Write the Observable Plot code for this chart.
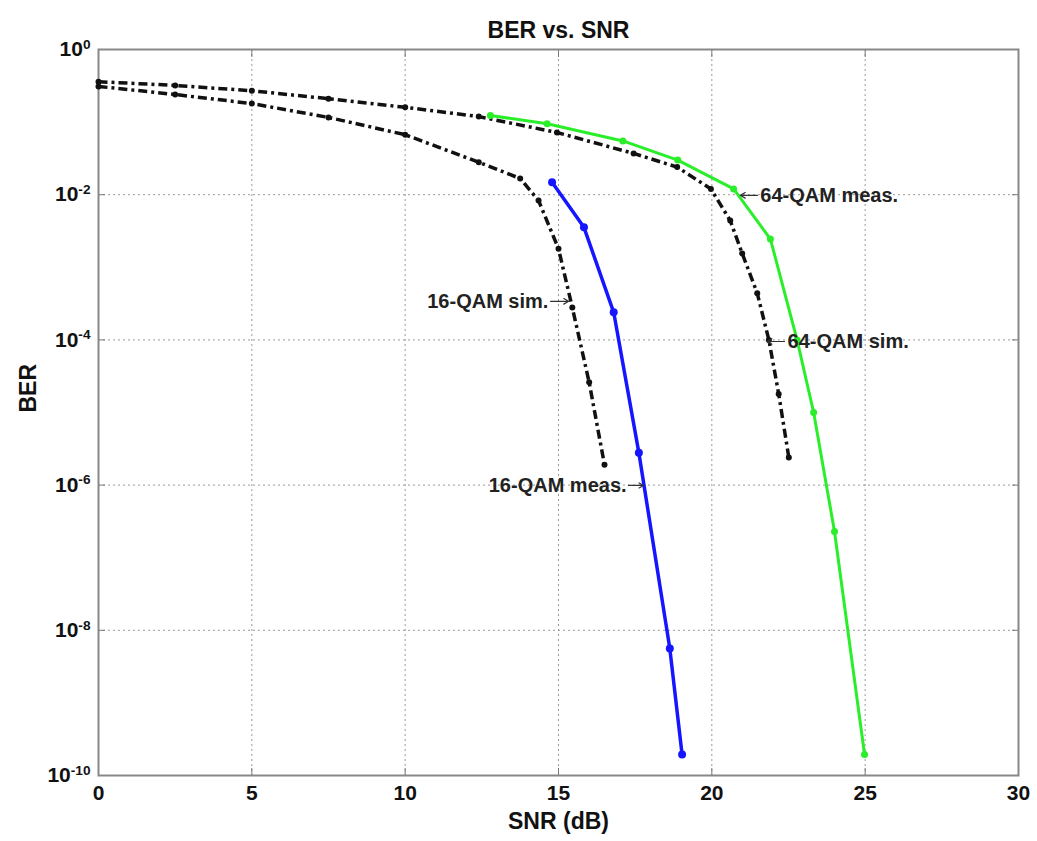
<!DOCTYPE html>
<html><head><meta charset="utf-8">
<script src="https://cdn.jsdelivr.net/npm/d3@7"></script>
<script src="https://cdn.jsdelivr.net/npm/@observablehq/plot@0.6"></script>
<style>body{margin:0;background:#fff} svg{display:block}</style>
</head><body><div id="chart"></div>
<script>
// ---- data ----
const chartTitle = "BER vs. SNR";
const xLabel = "SNR (dB)";
const yLabel = "BER";
const xTicks = [0, 5, 10, 15, 20, 25, 30];
const yTicks = [1, 1e-2, 1e-4, 1e-6, 1e-8, 1e-10];
const xGrid = [5, 10, 15, 20, 25];
const yGrid = [1e-2, 1e-4, 1e-6, 1e-8];

const sim16X = [0, 2.5, 5, 7.5, 10, 12.4, 13.75, 14.35, 15.0, 15.45, 16.0, 16.5];
const sim16Y = [0.31, 0.24, 0.18, 0.116, 0.067, 0.028, 0.0167, 8.3e-3, 1.8e-3, 2.8e-4, 2.6e-5, 1.9e-6];

const sim64X = [0, 2.5, 5, 7.5, 10, 12.4, 14.95, 17.45, 18.87, 19.97, 20.6, 20.99, 21.48, 21.86, 22.18, 22.51];
const sim64Y = [0.36, 0.32, 0.27, 0.21, 0.16, 0.119, 0.072, 0.037, 0.024, 0.012, 4.4e-3, 1.55e-3, 4.4e-4, 1.0e-4, 1.8e-5, 2.4e-6];

const meas16X = [14.79, 15.83, 16.8, 17.62, 18.63, 19.03];
const meas16Y = [0.0148, 3.55e-3, 2.4e-4, 2.8e-6, 5.6e-9, 1.95e-10];

const meas64X = [12.78, 14.63, 17.1, 18.89, 20.71, 21.91, 22.78, 23.32, 24.0, 24.98];
const meas64Y = [0.123, 0.095, 0.055, 0.030, 0.012, 2.45e-3, 1.0e-4, 1.0e-5, 2.3e-7, 1.95e-10];

const noteText = ["16-QAM sim.", "16-QAM meas.", "64-QAM meas.", "64-QAM sim."];
const noteX = [14.67, 17.22, 21.58, 22.47];
const noteY = [3.4e-4, 9.9e-7, 9.8e-3, 9.5e-5];
const noteSide = ["end", "end", "start", "start"];
const arrowFromX = [14.74, 17.28, 21.49, 22.37];
const arrowToX = [15.33, 17.77, 20.93, 21.80];

// ---- tables ----
const toRows = (xs, ys) => xs.map((x, i) => ({x, y: ys[i]}));
const sim16 = toRows(sim16X, sim16Y);
const sim64 = toRows(sim64X, sim64Y);
const meas16 = toRows(meas16X, meas16Y);
const meas64 = toRows(meas64X, meas64Y);
const notes = noteText.map((t, i) => ({t, x: noteX[i], y: noteY[i], side: noteSide[i], x1: arrowFromX[i], x2: arrowToX[i]}));

const FONT = "'Liberation Sans', Arial, sans-serif";
const BLUE = "#1515ff", GREEN = "#2bee2b", BLACK = "#111";
const dashDot = "9,4,3,4";

const plot = Plot.plot({
  width: 1037, height: 841,
  marginLeft: 98, marginRight: 19, marginTop: 49, marginBottom: 66,
  style: {fontFamily: FONT, fontWeight: "bold", fontSize: "21px", color: "#111", background: "#fff"},
  x: {domain: [0, 30], label: null},
  y: {type: "log", domain: [1e-10, 1], label: null},
  marks: [
    Plot.gridX(xGrid, {stroke: "#999", strokeOpacity: 1, strokeDasharray: "2,3", strokeWidth: 1}),
    Plot.gridY(yGrid, {stroke: "#999", strokeOpacity: 1, strokeDasharray: "2,3", strokeWidth: 1}),
    Plot.axisX(xTicks, {tickSize: 0, tickPadding: 10, tickFormat: d => String(d), label: null}),
    Plot.axisX(xTicks, {anchor: "bottom", tickSize: -7, tickFormat: () => "", label: null, stroke: "#777"}),
    Plot.axisX(xTicks, {anchor: "top", tickSize: -7, tickFormat: () => "", label: null, stroke: "#777"}),
    Plot.axisY(yTicks, {tickSize: 0, tickPadding: 8, tickFormat: d => "10^" + Math.round(Math.log10(d)), label: null}),
    Plot.axisY(yTicks, {anchor: "left", tickSize: -7, tickFormat: () => "", label: null, stroke: "#777"}),
    Plot.axisY(yTicks, {anchor: "right", tickSize: -7, tickFormat: () => "", label: null, stroke: "#777"}),
    Plot.frame({stroke: "#888", strokeWidth: 2}),

    Plot.line(sim64, {x: "x", y: "y", stroke: BLACK, strokeWidth: 3.5, strokeDasharray: dashDot, strokeLinecap: "butt"}),
    Plot.dot(sim64, {x: "x", y: "y", r: 3, fill: BLACK}),
    Plot.line(sim16, {x: "x", y: "y", stroke: BLACK, strokeWidth: 3.5, strokeDasharray: dashDot, strokeLinecap: "butt"}),
    Plot.dot(sim16, {x: "x", y: "y", r: 3, fill: BLACK}),
    Plot.line(meas64, {x: "x", y: "y", stroke: GREEN, strokeWidth: 3}),
    Plot.dot(meas64, {x: "x", y: "y", r: 3.5, fill: GREEN}),
    Plot.line(meas16, {x: "x", y: "y", stroke: BLUE, strokeWidth: 3.5}),
    Plot.dot(meas16, {x: "x", y: "y", r: 4, fill: BLUE}),

    Plot.arrow(notes, {x1: "x1", y1: "y", x2: "x2", y2: "y", stroke: "#333", strokeWidth: 1.2, headLength: 7}),
    Plot.text(notes.filter(d => d.side === "end"), {x: "x", y: "y", text: "t", textAnchor: "end", fill: "#222", fontSize: 20}),
    Plot.text(notes.filter(d => d.side === "start"), {x: "x", y: "y", text: "t", textAnchor: "start", fill: "#222", fontSize: 20}),

    Plot.text([chartTitle], {frameAnchor: "top", dy: -28, fontSize: 23, fill: "#111"}),
    Plot.text([xLabel], {frameAnchor: "bottom", dy: 53, fontSize: 23, fill: "#111"}),
    Plot.text([yLabel], {frameAnchor: "left", dx: -70, rotate: -90, fontSize: 23, fill: "#111"})
  ]
});

// superscript exponents on y tick labels
d3.select(plot).selectAll('g[aria-label="y-axis tick label"] text').each(function () {
  const s = d3.select(this).text();
  const m = s.match(/^10\^(-?\d+)$/);
  if (!m) return;
  const el = d3.select(this);
  el.text("10");
  el.append("tspan").attr("dy", "-0.55em").attr("font-size", "0.65em").text(m[1]);
});
document.getElementById("chart").appendChild(plot);
</script>
</body></html>
